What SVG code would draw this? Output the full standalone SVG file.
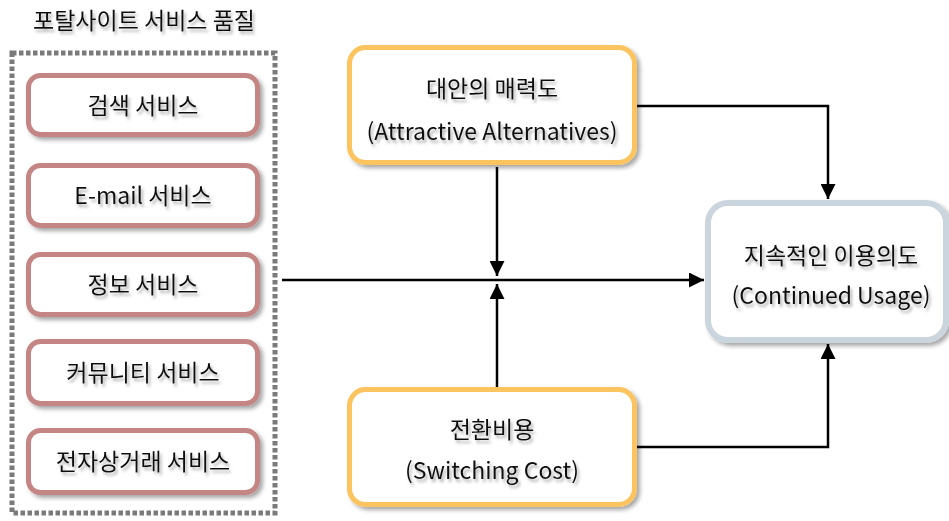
<svg xmlns="http://www.w3.org/2000/svg" width="949" height="521" viewBox="0 0 949 521">
<defs>
<style>
text{font-family:"Malgun Gothic","Noto Sans CJK KR","Noto Sans",sans-serif;fill:#111;text-anchor:middle;font-weight:400;}
.t{font-size:23px;}
.svc{fill:#fff;stroke:#c48684;stroke-width:5;}
.org{fill:#fff;stroke:#fbc45f;stroke-width:5;}
.gry{fill:#fff;stroke:#cad5dd;stroke-width:6;}
.ln{fill:none;stroke:#000;stroke-width:2.5;}
</style>
<filter id="sh" x="-10%" y="-10%" width="130%" height="140%">
<feDropShadow dx="3" dy="3" stdDeviation="2" flood-color="#000" flood-opacity="0.35"/>
</filter>
<filter id="ts" x="-10%" y="-30%" width="130%" height="170%">
<feDropShadow dx="2" dy="3" stdDeviation="1.5" flood-color="#666" flood-opacity="0.55"/>
</filter>
<marker id="ah" viewBox="0 0 10 10" refX="10" refY="5" markerWidth="6" markerHeight="6" markerUnits="strokeWidth" orient="auto">
<path d="M0,0 L10,5 L0,10 z" fill="#000"/>
</marker>
</defs>
<rect width="949" height="521" fill="#fff"/>

<g id="title">
<text class="t" x="144" y="29" filter="url(#ts)">포탈사이트 서비스 품질</text>
</g>

<g id="group-box">
<rect x="12" y="53" width="263" height="460" fill="none" stroke="#7a7a7a" stroke-width="5" stroke-dasharray="4.5,2.5"/>
</g>

<g id="svc1">
<rect class="svc" x="28.5" y="75.5" width="229" height="59" rx="12" filter="url(#sh)"/>
<text class="t" x="143" y="114" filter="url(#ts)">검색 서비스</text>
</g>
<g id="svc2">
<rect class="svc" x="28.5" y="165.5" width="229" height="60" rx="12" filter="url(#sh)"/>
<text class="t" x="143" y="204" filter="url(#ts)">E-mail 서비스</text>
</g>
<g id="svc3">
<rect class="svc" x="28.5" y="254.5" width="229" height="60" rx="12" filter="url(#sh)"/>
<text class="t" x="143" y="293" filter="url(#ts)">정보 서비스</text>
</g>
<g id="svc4">
<rect class="svc" x="28.5" y="341.5" width="229" height="62" rx="12" filter="url(#sh)"/>
<text class="t" x="143" y="381" filter="url(#ts)">커뮤니티 서비스</text>
</g>
<g id="svc5">
<rect class="svc" x="28.5" y="430.5" width="229" height="62" rx="12" filter="url(#sh)"/>
<text class="t" x="143" y="470" filter="url(#ts)">전자상거래 서비스</text>
</g>

<g id="alt">
<rect class="org" x="349.5" y="47.5" width="285" height="115" rx="16" filter="url(#sh)"/>
<text class="t" x="492" y="97" filter="url(#ts)">대안의 매력도</text>
<text class="t" x="492" y="140" filter="url(#ts)">(Attractive Alternatives)</text>
</g>

<g id="cost">
<rect class="org" x="349.5" y="389.5" width="285" height="115" rx="16" filter="url(#sh)"/>
<text class="t" x="492" y="438" filter="url(#ts)">전환비용</text>
<text class="t" x="492" y="479" filter="url(#ts)">(Switching Cost)</text>
</g>

<g id="usage">
<rect class="gry" x="708" y="203" width="238" height="137" rx="20" filter="url(#sh)"/>
<text class="t" x="831" y="264" filter="url(#ts)">지속적인 이용의도</text>
<text class="t" x="831" y="304" filter="url(#ts)">(Continued Usage)</text>
</g>

<g id="connectors">
<line class="ln" x1="282" y1="280" x2="704" y2="280" marker-end="url(#ah)"/>
<line class="ln" x1="497" y1="167" x2="497" y2="276" marker-end="url(#ah)"/>
<line class="ln" x1="497" y1="387" x2="497" y2="284" marker-end="url(#ah)"/>
<polyline class="ln" points="637,106 828,106 828,199" marker-end="url(#ah)"/>
<polyline class="ln" points="637,447 828,447 828,344" marker-end="url(#ah)"/>
</g>
</svg>
